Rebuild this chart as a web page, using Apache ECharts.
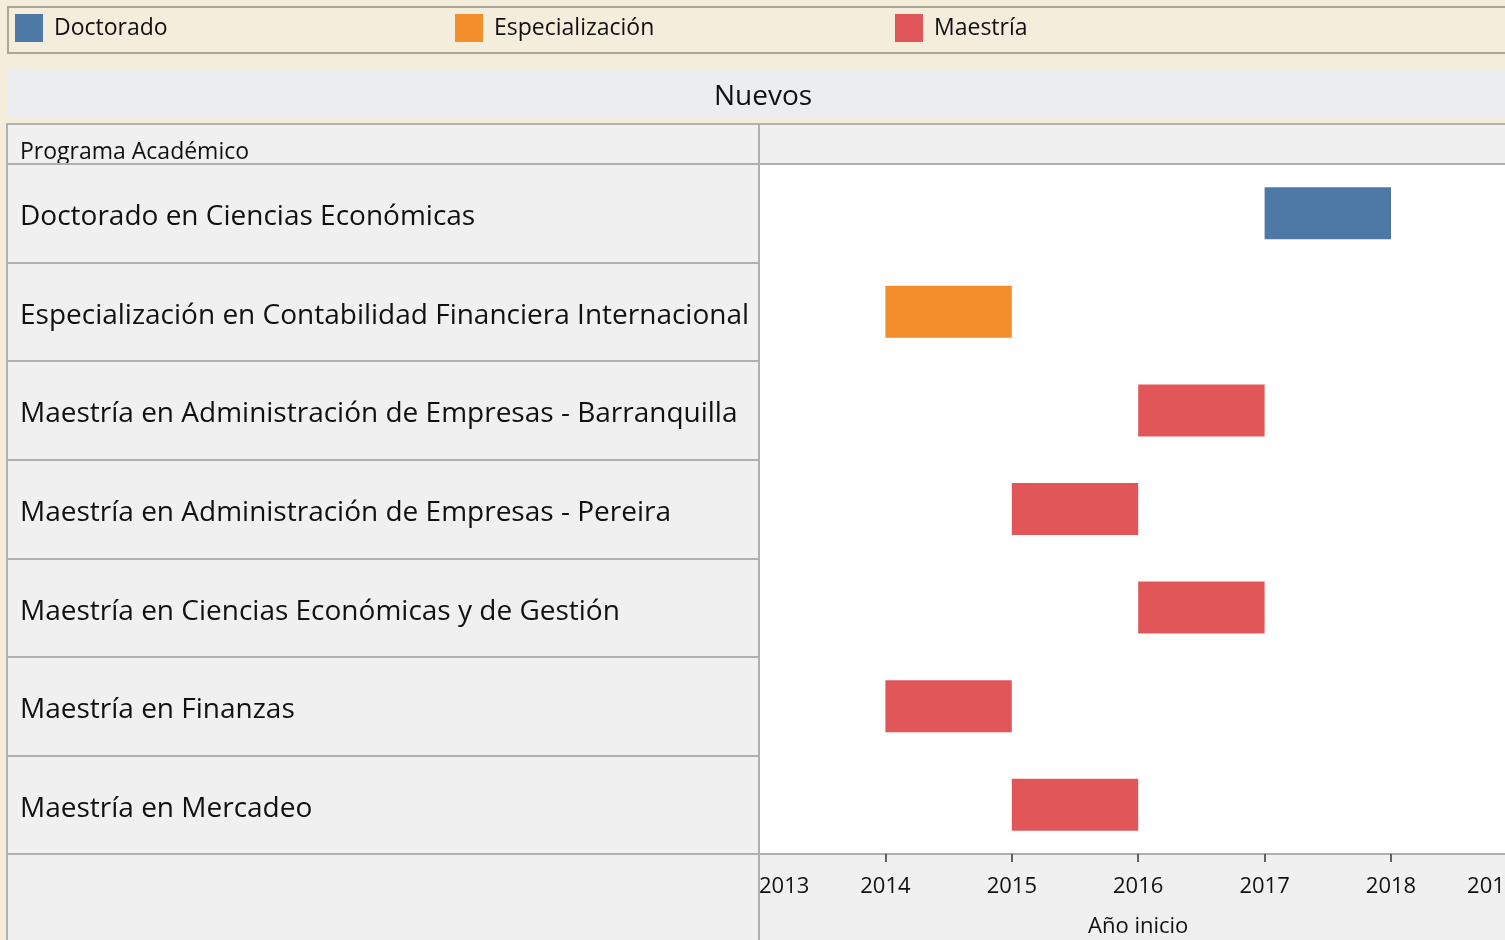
<!DOCTYPE html>
<html>
<head>
<meta charset="utf-8">
<script src="https://cdn.jsdelivr.net/npm/echarts@6/dist/echarts.min.js"></script>
<style>
html,body{margin:0;padding:0;background:#F5EDDC;}
#c{width:1505px;height:940px;}
</style>
</head>
<body>
<div id="c"></div>
<script>
const programs = [
  'Doctorado en Ciencias Económicas',
  'Especialización en Contabilidad Financiera Internacional',
  'Maestría en Administración de Empresas - Barranquilla',
  'Maestría en Administración de Empresas - Pereira',
  'Maestría en Ciencias Económicas y de Gestión',
  'Maestría en Finanzas',
  'Maestría en Mercadeo'
];
const programType = ['Doctorado','Especialización','Maestría','Maestría','Maestría','Maestría','Maestría'];
const startYear = [2017, 2014, 2016, 2015, 2016, 2014, 2015];
const endYear   = [2018, 2015, 2017, 2016, 2017, 2015, 2016];
const legendNames = ['Doctorado','Especialización','Maestría'];
const typeColors = ['#4E79A7','#F28E2B','#E15759'];
const yearMin = 2013, yearMax = 2019;

const FONT = 'Open Sans';
const chart = echarts.init(document.getElementById('c'));

const series = [{
  name: 'base', type: 'bar', stack: 'g', silent: true,
  itemStyle: {color: 'transparent'}, barWidth: 52,
  data: startYear
}];
legendNames.forEach((n, i) => {
  series.push({
    name: n, type: 'bar', stack: 'g', barWidth: 52,
    itemStyle: {color: typeColors[i]},
    data: programType.map((t, k) => t === n ? endYear[k] - startYear[k] : '-')
  });
});

const legendLefts = [15, 455, 895];
const legends = legendNames.map((n, i) => ({
  data: [n], left: legendLefts[i], top: 14, padding: 0,
  icon: 'rect', itemWidth: 28, itemHeight: 28,
  selectedMode: false,
  textStyle: {fontFamily: FONT, fontSize: 23, color: '#111', padding: [0,0,0,6]}
}));

const gridLeft = 759, gridTop = 164, gridW = 758.4, gridH = 690;

chart.setOption({
  backgroundColor: '#F5EDDC',
  animation: false,
  textStyle: {fontFamily: FONT},
  legend: legends,
  title: [
    {text: 'Nuevos', left: 763, top: 83, textAlign: 'center', padding: 0,
     textStyle: {fontFamily: FONT, fontSize: 28, fontWeight: 'normal', color: '#111'}},
    {text: 'Programa Académico', left: 20, top: 141, padding: 0,
     textStyle: {fontFamily: FONT, fontSize: 23, fontWeight: 'normal', color: '#111'}}
  ],
  graphic: [
    {type: 'rect', z: -10, silent: true, shape: {x: 8, y: 7, width: 1510, height: 46}, style: {fill: '#F5EDDC', stroke: '#ABA69A', lineWidth: 2}},
    {type: 'rect', z: -10, silent: true, shape: {x: 8, y: 70, width: 1510, height: 48}, style: {fill: '#ECEDF0'}},
    {type: 'rect', z: -10, silent: true, shape: {x: 7, y: 124, width: 1511, height: 830}, style: {fill: '#F0F0F0', stroke: '#B0B0B0', lineWidth: 2}},
    {type: 'line', z: 10, silent: true, shape: {x1: 7, y1: 164, x2: 1518, y2: 164}, style: {stroke: '#B0B0B0', lineWidth: 2}},
    {type: 'line', z: 10, silent: true, shape: {x1: 759, y1: 124, x2: 759, y2: 940}, style: {stroke: '#B0B0B0', lineWidth: 2}}
  ],
  grid: {
    left: gridLeft, top: gridTop, width: gridW, height: gridH,
    outerBoundsMode: 'none', containLabel: false,
    show: true, backgroundColor: '#FFFFFF', borderWidth: 0
  },
  xAxis: {
    type: 'value', min: yearMin, max: yearMax, interval: 1,
    position: 'bottom',
    axisLine: {show: true, onZero: false, lineStyle: {color: '#B0B0B0', width: 2}},
    axisTick: {show: true, length: 8, lineStyle: {color: '#333', width: 1.5}},
    splitLine: {show: false},
    axisLabel: {fontFamily: FONT, fontSize: 22, color: '#111', margin: 22,
                alignMinLabel: 'left', alignMaxLabel: 'right', showMaxLabel: true, showMinLabel: true,
                formatter: v => String(v)},
    name: 'Año inicio', nameLocation: 'middle', nameGap: 62,
    nameTextStyle: {fontFamily: FONT, fontSize: 22, color: '#111'}
  },
  yAxis: {
    type: 'category', data: programs, inverse: true,
    axisLine: {show: true, lineStyle: {color: '#B0B0B0', width: 2}},
    axisTick: {show: true, length: 752, lineStyle: {color: '#B0B0B0', width: 2}},
    splitLine: {show: false},
    axisLabel: {align: 'left', verticalAlign: 'top', lineHeight: 8, margin: 739,
                fontFamily: FONT, fontSize: 28, color: '#111'}
  },
  series: series
});
</script>
</body>
</html>
